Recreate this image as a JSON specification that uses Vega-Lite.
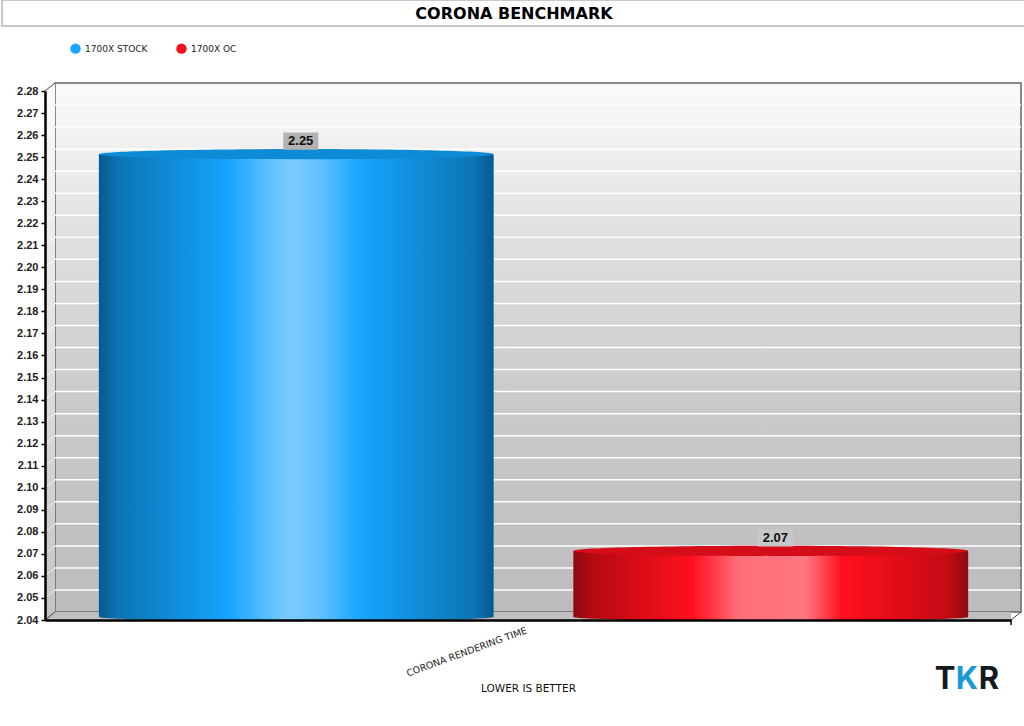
{
"$schema":"https://vega.github.io/schema/vega-lite/v6.json",
"autosize":{"type":"none"},
"padding":{"left":55,"top":83,"right":3,"bottom":114},
"width":966,"height":529,
"background":"white",
"title":{"text":"CORONA BENCHMARK","font":"DejaVu Sans","fontWeight":"bold","fontSize":16,"color":"#000000","anchor":"middle","frame":"group","dx":-24,"offset":0,"dy":23,"zindex":5},
"config":{"view":{"fill":{"gradient":"linear","x1":0,"y1":0,"x2":0,"y2":1,"stops":[{"offset":0,"color":"#fbfbfb"},{"offset":0.3,"color":"#dfdfdf"},{"offset":0.6,"color":"#cacaca"},{"offset":1,"color":"#bcbcbc"}]},"stroke":"#666666","strokeWidth":1.5}},
"datasets":{
"main":[{"category":"CORONA RENDERING TIME","series":"1700X STOCK","value":2.25},{"category":"CORONA RENDERING TIME","series":"1700X OC","value":2.07}],
"ticks":[{"tick":2.05},{"tick":2.06},{"tick":2.07},{"tick":2.08},{"tick":2.09},{"tick":2.10},{"tick":2.11},{"tick":2.12},{"tick":2.13},{"tick":2.14},{"tick":2.15},{"tick":2.16},{"tick":2.17},{"tick":2.18},{"tick":2.19},{"tick":2.20},{"tick":2.21},{"tick":2.22},{"tick":2.23},{"tick":2.24},{"tick":2.25},{"tick":2.26},{"tick":2.27}],
"frame":[{"part":"frame"}],
"logo":[{"letter":"T"},{"letter":"K"},{"letter":"R"}]
},
"data":{"name":"main"},
"resolve":{"scale":{"x":"independent"},"axis":{"x":"independent","y":"independent"}},
"layer":[
{"data":{"name":"frame"},"mark":{"type":"rect","fill":"white","stroke":"#c8c8c8","strokeWidth":2,"yOffset":-83,"y2Offset":-57},
 "encoding":{"x":{"datum":0,"type":"quantitative","scale":{"domain":[0,1],"range":[-53,972]},"axis":null},"x2":{"datum":1},"y":{"datum":2.28,"type":"quantitative","scale":{"domain":[2.04,2.28],"nice":false,"zero":false},"axis":null},"y2":{"datum":2.28}}},
{"data":{"name":"frame"},"mark":{"type":"rect","fill":{"gradient":"linear","x1":0,"y1":0,"x2":0,"y2":1,"stops":[{"offset":0,"color":"#fbfbfb"},{"offset":1,"color":"#c4c4c4"}]},"yOffset":8,"y2Offset":0},
 "encoding":{"x":{"datum":0,"type":"quantitative","scale":{"domain":[0,1],"range":[-10,0]},"axis":null},"x2":{"datum":1},"y":{"datum":2.04,"type":"quantitative","axis":null},"y2":{"datum":2.28}}},
{"data":{"name":"frame"},"mark":{"type":"rect","fill":"#c0c0c0","yOffset":8,"y2Offset":0},
 "encoding":{"x":{"datum":0,"type":"quantitative","scale":{"domain":[0,1],"range":[-10,956]},"axis":null},"x2":{"datum":1},"y":{"datum":2.04,"type":"quantitative","axis":null},"y2":{"datum":2.04}}},
{"data":{"name":"ticks"},"mark":{"type":"rule","stroke":"#ffffff","strokeWidth":1.5},
 "encoding":{"y":{"field":"tick","type":"quantitative","axis":null}}},
{"data":{"name":"ticks"},"mark":{"type":"rule","stroke":"#ffffff","strokeWidth":1,"opacity":0.6,"yOffset":8,"y2Offset":0},
 "encoding":{"x":{"datum":0,"type":"quantitative","scale":{"domain":[0,1],"range":[-10,0]},"axis":null},"x2":{"datum":1},"y":{"field":"tick","type":"quantitative","axis":null},"y2":{"field":"tick"}}},
{"data":{"name":"frame"},"mark":{"type":"rule","stroke":"#444444","strokeWidth":1,"yOffset":8,"y2Offset":0},
 "encoding":{"x":{"datum":0,"type":"quantitative","scale":{"domain":[0,1],"range":[-10,0]},"axis":null},"x2":{"datum":1},"y":{"datum":2.04,"type":"quantitative","axis":null},"y2":{"datum":2.04}}},
{"data":{"name":"frame"},"mark":{"type":"rule","stroke":"#444444","strokeWidth":1,"yOffset":8,"y2Offset":0},
 "encoding":{"x":{"datum":0,"type":"quantitative","scale":{"domain":[0,1],"range":[-10,0]},"axis":null},"x2":{"datum":1},"y":{"datum":2.28,"type":"quantitative","axis":null},"y2":{"datum":2.28}}},
{"data":{"name":"frame"},"mark":{"type":"rule","stroke":"#444444","strokeWidth":1,"yOffset":8,"y2Offset":0},
 "encoding":{"x":{"datum":0,"type":"quantitative","scale":{"domain":[0,1],"range":[956,966]},"axis":null},"x2":{"datum":1},"y":{"datum":2.04,"type":"quantitative","axis":null},"y2":{"datum":2.04}}},
{"data":{"name":"frame"},"mark":{"type":"rule","stroke":"#000000","strokeWidth":1.5,"yOffset":8,"y2Offset":13},
 "encoding":{"x":{"datum":1,"type":"quantitative","scale":{"domain":[0,1],"range":[0,956]},"axis":null},"y":{"datum":2.04,"type":"quantitative","axis":null},"y2":{"datum":2.04}}},
{"mark":{"type":"point","filled":true,"opacity":1,"yOffset":5,"shape":"M-1,0 A1,0.0203 0 0 0 1,0 L-1,0 Z","size":155236},
 "encoding":{"x":{"field":"category","type":"nominal","scale":{"paddingInner":0,"paddingOuter":0},"axis":null},"xOffset":{"field":"series","type":"nominal","sort":["1700X STOCK","1700X OC"],"scale":{"domain":["1700X STOCK","1700X OC"],"paddingInner":0.1686,"paddingOuter":0.102,"align":0.4536}},"y":{"datum":2.04,"type":"quantitative","axis":null},
 "fill":{"condition":{"test":"datum.series==='1700X STOCK'","value":{"gradient":"linear","x1":0,"y1":0,"x2":1,"y2":0,"stops":[{"offset":0,"color":"#075a8f"},{"offset":0.05,"color":"#0c74b4"},{"offset":0.33,"color":"#16a5ff"},{"offset":0.42,"color":"#55bdff"},{"offset":0.485,"color":"#7dcbff"},{"offset":0.56,"color":"#62c1ff"},{"offset":0.66,"color":"#18a6ff"},{"offset":0.95,"color":"#0c74b4"},{"offset":1,"color":"#075a8f"}]}},"value":{"gradient":"linear","x1":0,"y1":0,"x2":1,"y2":0,"stops":[{"offset":0,"color":"#8c0a10"},{"offset":0.05,"color":"#b60a12"},{"offset":0.3,"color":"#ff0f1e"},{"offset":0.42,"color":"#ff6f7a"},{"offset":0.59,"color":"#ff7580"},{"offset":0.68,"color":"#ff0f1e"},{"offset":0.95,"color":"#c40b14"},{"offset":1,"color":"#8c0a10"}]}}}},
{"mark":{"type":"bar","yOffset":5,"y2Offset":5},
 "encoding":{"x":{"field":"category","type":"nominal","scale":{"paddingInner":0,"paddingOuter":0},"axis":null},"xOffset":{"field":"series","type":"nominal","sort":["1700X STOCK","1700X OC"],"scale":{"domain":["1700X STOCK","1700X OC"],"paddingInner":0.1686,"paddingOuter":0.102,"align":0.4536}},"y":{"field":"value","type":"quantitative","axis":null},"y2":{"datum":2.04},
 "color":{"field":"series","type":"nominal","scale":{"domain":["1700X STOCK","1700X OC"],"range":["#1aa7ff","#f5101e"]},"legend":{"orient":"none","legendX":15,"legendY":-40,"direction":"horizontal","title":null,"symbolType":"circle","symbolSize":110,"labelFont":"DejaVu Sans","labelFontSize":9,"labelColor":"#222222","columnPadding":28,"symbolStrokeWidth":0}}}},
{"mark":{"type":"bar","yOffset":5,"y2Offset":5},
 "encoding":{"x":{"field":"category","type":"nominal","scale":{"paddingInner":0,"paddingOuter":0},"axis":{"title":"LOWER IS BETTER","titleFont":"DejaVu Sans","titleFontWeight":"normal","titleFontSize":10.5,"titleColor":"#111111","titleY":63,"domainColor":"#000000","domainWidth":2.5,"ticks":false,"labelFont":"DejaVu Sans","labelFontSize":9.5,"labelColor":"#222222","labelAngle":-20,"labelAlign":"right","labelBaseline":"top","labelPadding":5,"labelOffset":-3,"offset":18,"translate":-9.5,"zindex":2}},"xOffset":{"field":"series","type":"nominal","sort":["1700X STOCK","1700X OC"],"scale":{"domain":["1700X STOCK","1700X OC"],"paddingInner":0.1686,"paddingOuter":0.102,"align":0.4536}},"y":{"field":"value","type":"quantitative","axis":{"title":null,"values":[2.04,2.05,2.06,2.07,2.08,2.09,2.10,2.11,2.12,2.13,2.14,2.15,2.16,2.17,2.18,2.19,2.20,2.21,2.22,2.23,2.24,2.25,2.26,2.27,2.28],"format":".2f","grid":false,"offset":18,"translate":8.5,"domainColor":"#000000","domainWidth":2.5,"tickColor":"#000000","tickWidth":1.5,"tickSize":4,"labelPadding":3,"labelFont":"Liberation Sans","labelFontWeight":"bold","labelFontSize":11,"labelColor":"#222222","labelOverlap":false,"labelFlush":false,"zindex":2}},"y2":{"datum":2.04},
 "fill":{"condition":{"test":"datum.series==='1700X STOCK'","value":{"gradient":"linear","x1":0,"y1":0,"x2":1,"y2":0,"stops":[{"offset":0,"color":"#075a8f"},{"offset":0.05,"color":"#0c74b4"},{"offset":0.33,"color":"#16a5ff"},{"offset":0.42,"color":"#55bdff"},{"offset":0.485,"color":"#7dcbff"},{"offset":0.56,"color":"#62c1ff"},{"offset":0.66,"color":"#18a6ff"},{"offset":0.95,"color":"#0c74b4"},{"offset":1,"color":"#075a8f"}]}},"value":{"gradient":"linear","x1":0,"y1":0,"x2":1,"y2":0,"stops":[{"offset":0,"color":"#8c0a10"},{"offset":0.05,"color":"#b60a12"},{"offset":0.3,"color":"#ff0f1e"},{"offset":0.42,"color":"#ff6f7a"},{"offset":0.59,"color":"#ff7580"},{"offset":0.68,"color":"#ff0f1e"},{"offset":0.95,"color":"#c40b14"},{"offset":1,"color":"#8c0a10"}]}}}},
{"mark":{"type":"point","filled":true,"opacity":1,"yOffset":5,"shape":"M-1,0 A1,0.0254 0 0 1 1,0 A1,0.0254 0 0 1 -1,0 Z","size":155236},
 "encoding":{"x":{"field":"category","type":"nominal","scale":{"paddingInner":0,"paddingOuter":0},"axis":null},"xOffset":{"field":"series","type":"nominal","sort":["1700X STOCK","1700X OC"],"scale":{"domain":["1700X STOCK","1700X OC"],"paddingInner":0.1686,"paddingOuter":0.102,"align":0.4536}},"y":{"field":"value","type":"quantitative","axis":null},
 "fill":{"condition":{"test":"datum.series==='1700X STOCK'","value":"#0e8bd6"},"value":"#d50d18"}}},
{"mark":{"type":"point","filled":true,"opacity":1,"yOffset":-8,"shape":"M-0.74,-0.49 L1.26,-0.49 L1.26,0.49 L-0.74,0.49 Z","size":1225},
 "encoding":{"x":{"field":"category","type":"nominal","scale":{"paddingInner":0,"paddingOuter":0},"axis":null},"xOffset":{"field":"series","type":"nominal","sort":["1700X STOCK","1700X OC"],"scale":{"domain":["1700X STOCK","1700X OC"],"paddingInner":0.1686,"paddingOuter":0.102,"align":0.4536}},"y":{"field":"value","type":"quantitative","axis":null},
 "fill":{"condition":{"test":"datum.series==='1700X STOCK'","value":"#b2b2b2"},"value":"#c8c8c8"}}},
{"mark":{"type":"text","font":"Liberation Sans","fontWeight":"bold","fontSize":13,"color":"#111111","yOffset":-8,"dx":4.5},
 "encoding":{"x":{"field":"category","type":"nominal","scale":{"paddingInner":0,"paddingOuter":0},"axis":null},"xOffset":{"field":"series","type":"nominal","sort":["1700X STOCK","1700X OC"],"scale":{"domain":["1700X STOCK","1700X OC"],"paddingInner":0.1686,"paddingOuter":0.102,"align":0.4536}},"y":{"field":"value","type":"quantitative","axis":null},"text":{"field":"value","type":"quantitative","format":".2f"}}},
{"data":{"name":"logo"},"mark":{"type":"text","font":"Inter","fontWeight":"bold","fontSize":31,"yOffset":68},
 "encoding":{"x":{"field":"letter","type":"nominal","scale":{"type":"point","domain":["T","K","R"],"range":[890,934],"padding":0},"axis":null},"y":{"datum":2.04,"type":"quantitative","axis":null},"text":{"field":"letter","type":"nominal"},
 "fill":{"condition":{"test":"datum.letter==='K'","value":"#1b9ad6"},"value":"#14191e"}}}
]
}
